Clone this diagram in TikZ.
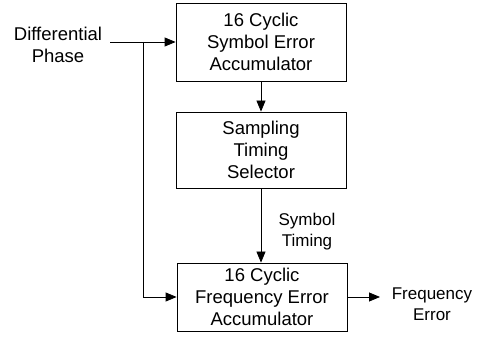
\documentclass[tikz,border=0pt]{standalone}
\usepackage{fontspec}
\setmainfont{Liberation Sans}
\usetikzlibrary{arrows.meta}

\begin{document}
\begin{tikzpicture}[
  x=1pt, y=-1pt,
  line width=0.8pt,
  blk/.style={draw, rectangle, minimum width=170pt, align=center,
    font=\fontsize{18.5}{22}\selectfont},
  lbl/.style={align=center, font=\fontsize{17}{21}\selectfont},
  flow/.style={-{Triangle[length=11pt,width=9pt]}}
]
\useasboundingbox (0,0) rectangle (488,344);

% blocks
\node[blk, minimum height=78pt] (symacc) at (261,42) {16 Cyclic\\Symbol Error\\Accumulator};
\node[blk, minimum height=76pt] (selector) at (261,150) {Sampling\\Timing\\Selector};
\node[blk, minimum height=68pt] (freqacc) at (262,297) {16 Cyclic\\Frequency Error\\Accumulator};

% labels
\node[lbl, font=\fontsize{18.5}{22}\selectfont] (phase) at (58,45) {Differential\\Phase};
\node[lbl] (timing) at (307,232) {Symbol\\Timing};
\node[lbl] (ferr) at (432,304) {Frequency\\Error};

\coordinate (in) at (110,42);
\coordinate (split) at (143,42);
\coordinate (out) at (380,297);

% connectors
\draw[flow] (in) -- (symacc.west);
\draw[flow] (split) |- (freqacc.west);
\draw[flow] (symacc.south -| selector.north) -- (selector.north);
\draw[flow] (selector.south) -- (selector.south |- freqacc.north);
\draw[flow] (freqacc.east) -- (out);
\end{tikzpicture}
\end{document}
